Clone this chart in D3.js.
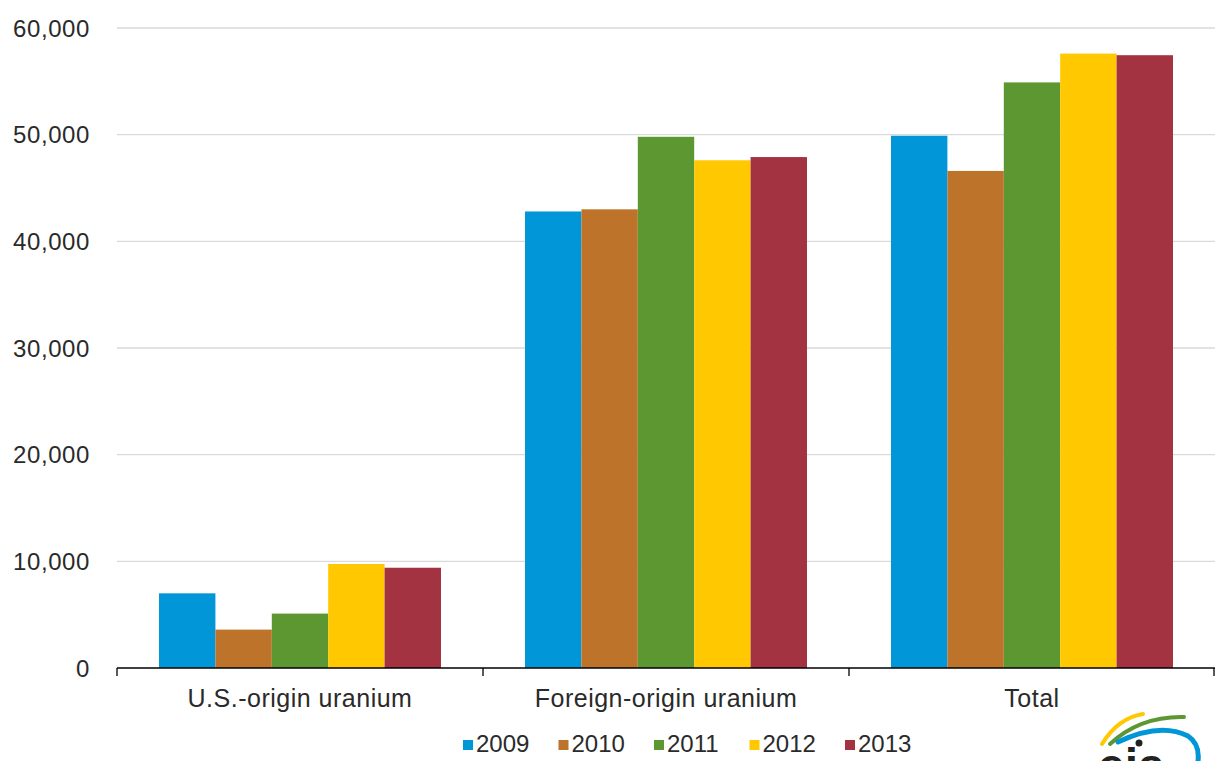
<!DOCTYPE html>
<html>
<head>
    <title>Uranium</title>
    <script src="https://d3js.org/d3.v7.min.js"></script>
    <style>
        body { margin: 0; background: #fff; }
        text { font-family: 'Liberation Sans', Arial, sans-serif; fill: #2a2a2a; }
    </style>
</head>
<body>
<svg id="chart" width="1215" height="761"></svg>
<script>
    // data
    const categories = ['U.S.-origin uranium', 'Foreign-origin uranium', 'Total'];
    const years = ['2009', '2010', '2011', '2012', '2013'];
    const usOrigin = [7000, 3600, 5100, 9750, 9400];
    const foreignOrigin = [42800, 43000, 49800, 47600, 47900];
    const total = [49900, 46600, 54900, 57600, 57450];
    const yTicks = [0, 10000, 20000, 30000, 40000, 50000, 60000];
    const colors = ['#0096d7', '#bd732a', '#5d9732', '#ffc800', '#a33340'];

    const seriesByCat = [usOrigin, foreignOrigin, total];

    const svg = d3.select('#chart');
    const plotLeft = 117, plotRight = 1215, plotTop = 28, plotBottom = 668;

    const x = d3.scaleBand().domain(categories).range([plotLeft, plotRight]).paddingInner(0).paddingOuter(0);
    // 5 bars fill ~77% of each category band
    const xInner = d3.scaleBand().domain(years).range([0, x.bandwidth()]).paddingOuter(0.745).paddingInner(0);
    const y = d3.scaleLinear().domain([0, 60000]).range([plotBottom, plotTop]);

    // gridlines
    svg.append('g')
        .selectAll('line')
        .data(yTicks.filter(d => d > 0))
        .join('line')
        .attr('x1', plotLeft).attr('x2', plotRight)
        .attr('y1', d => y(d)).attr('y2', d => y(d))
        .attr('stroke', '#d9d9d9').attr('stroke-width', 1.3);

    // y labels
    svg.append('g')
        .selectAll('text')
        .data(yTicks)
        .join('text')
        .attr('x', 90)
        .attr('y', d => y(d))
        .attr('dy', '0.36em')
        .attr('text-anchor', 'end')
        .style('font-size', '24px')
        .style('letter-spacing', '0.6px')
        .text(d => d3.format(',')(d));

    // bars
    const groups = svg.append('g')
        .selectAll('g')
        .data(categories)
        .join('g')
        .attr('transform', d => `translate(${x(d)},0)`);

    groups.selectAll('rect')
        .data((d, i) => seriesByCat[i].map((v, j) => ({ year: years[j], value: v, color: colors[j] })))
        .join('rect')
        .attr('x', d => xInner(d.year))
        .attr('width', xInner.bandwidth())
        .attr('y', d => y(d.value))
        .attr('height', d => plotBottom - y(d.value))
        .attr('fill', d => d.color);

    // x axis
    const xAxis = svg.append('g');
    xAxis.append('line')
        .attr('x1', plotLeft).attr('x2', plotRight)
        .attr('y1', plotBottom).attr('y2', plotBottom)
        .attr('stroke', '#000').attr('stroke-width', 1.3);
    const tickXs = categories.map(c => x(c)).concat([plotRight - 1]);
    xAxis.selectAll('.tick')
        .data(tickXs)
        .join('line')
        .attr('x1', d => d).attr('x2', d => d)
        .attr('y1', plotBottom).attr('y2', plotBottom + 8)
        .attr('stroke', '#000').attr('stroke-width', 1.3);
    xAxis.selectAll('text')
        .data(categories)
        .join('text')
        .attr('x', d => x(d) + x.bandwidth() / 2)
        .attr('y', 707)
        .attr('text-anchor', 'middle')
        .style('font-size', '25px')
        .style('letter-spacing', '0.5px')
        .text(d => d);

    // legend
    const legend = svg.append('g')
        .selectAll('g')
        .data(years)
        .join('g')
        .attr('transform', (d, i) => `translate(${463 + i * 95.5},752)`);
    legend.append('rect')
        .attr('x', 0).attr('y', -12)
        .attr('width', 10).attr('height', 10)
        .attr('fill', (d, i) => colors[i]);
    legend.append('text')
        .attr('x', 13).attr('y', 0)
        .style('font-size', '24px')
        .text(d => d);

    // eia logo (partially cut off at the bottom edge, as in the source)
    const logo = svg.append('g').attr('transform', 'translate(1080,700)');
    logo.append('path')
        .attr('d', 'M 22 44 Q 38 18 63 14')
        .attr('fill', 'none').attr('stroke', '#ffc800').attr('stroke-width', 4).attr('stroke-linecap', 'round');
    logo.append('path')
        .attr('d', 'M 30 44 Q 60 16 104 17')
        .attr('fill', 'none').attr('stroke', '#5d9732').attr('stroke-width', 4).attr('stroke-linecap', 'round');
    logo.append('path')
        .attr('d', 'M 38 42 Q 80 22 108 36 Q 120 44 118 61')
        .attr('fill', 'none').attr('stroke', '#0096d7').attr('stroke-width', 5).attr('stroke-linecap', 'round');
    logo.append('circle').attr('cx', 59).attr('cy', 43).attr('r', 3.5).attr('fill', '#222');
    logo.append('text')
        .attr('x', 18).attr('y', 82)
        .style('font-size', '48px')
        .style('font-weight', 'bold')
        .style('fill', '#222')
        .text('eia');
</script>
</body>
</html>
